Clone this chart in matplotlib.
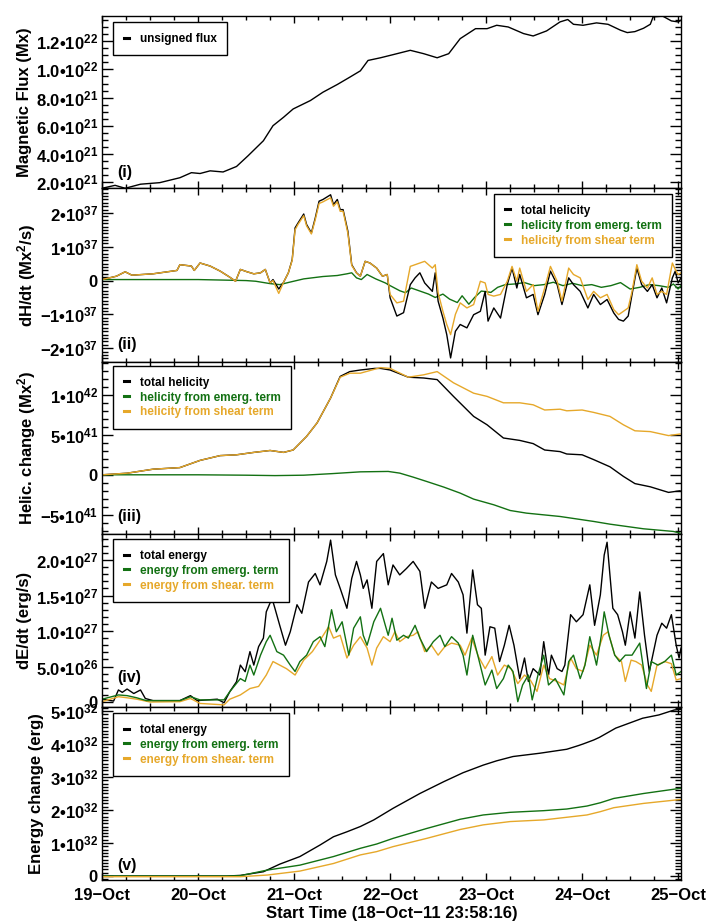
import matplotlib
matplotlib.use('Agg')
import matplotlib.pyplot as plt
from matplotlib.lines import Line2D
from matplotlib.ticker import FixedLocator, MultipleLocator

plt.rcParams['font.family'] = ['Liberation Sans', 'DejaVu Sans']
plt.rcParams['font.weight'] = 'bold'
plt.rcParams['mathtext.fontset'] = 'custom'
plt.rcParams['mathtext.rm'] = 'Liberation Sans:bold'
plt.rcParams['mathtext.bf'] = 'Liberation Sans:bold'
plt.rcParams['mathtext.it'] = 'Liberation Sans:bold'
plt.rcParams['mathtext.default'] = 'bf'

# ---------------- data (time in days since 19-Oct 00:00) ----------------
day_labels = ['19\u2212Oct', '20\u2212Oct', '21\u2212Oct', '22\u2212Oct', '23\u2212Oct', '24\u2212Oct', '25\u2212Oct']

# (i) unsigned flux, units 1e21 Mx
t_flux = [0.00, 0.135, 0.24, 0.40, 0.60, 0.81, 0.93, 1.02, 1.125, 1.26, 1.40, 1.52, 1.68, 1.78, 1.89, 1.99, 2.17, 2.30,
          2.45, 2.58, 2.69, 2.77, 2.90, 3.03, 3.21, 3.35, 3.49, 3.61, 3.73, 3.89, 4.01, 4.11, 4.23, 4.39, 4.49, 4.63,
          4.77, 4.85, 4.91, 5.01, 5.15, 5.27, 5.40, 5.47, 5.55, 5.64, 5.71, 5.74, 5.84, 5.93, 6.00, 6.03]
flux = [1.55, 1.76, 1.55, 1.84, 1.95, 2.3, 2.66, 2.6, 2.79, 2.71, 3.1, 3.86, 4.93, 6.0, 6.6, 7.19, 7.79, 8.38,
        8.93, 9.45, 9.9, 10.64, 10.83, 11.05, 11.36, 11.12, 10.83, 11.12, 12.19, 12.9, 12.9, 13.14, 13.02, 12.55, 12.38, 12.74,
        13.38, 13.55, 13.21, 13.14, 13.31, 13.21, 12.79, 12.62, 12.69, 12.93, 13.21, 13.74, 13.79, 13.45, 13.38, 13.5]

# (ii) dH/dt, units 1e37 Mx^2/s
t_dh = [0.00, 0.15, 0.24, 0.31, 0.53, 0.78, 0.81, 0.93, 0.96, 1.02,
        1.125, 1.23, 1.33, 1.39, 1.44, 1.51, 1.58, 1.65, 1.70, 1.75,
        1.78, 1.84, 1.89, 1.94, 1.98, 2.01, 2.04, 2.10, 2.13, 2.18,
        2.22, 2.26, 2.30, 2.38, 2.41, 2.45, 2.48, 2.51, 2.56, 2.60,
        2.65, 2.69, 2.74, 2.79, 2.86, 2.92, 2.97, 3.00, 3.07, 3.14,
        3.21, 3.26, 3.31, 3.36, 3.44, 3.47, 3.50, 3.55, 3.59, 3.63,
        3.68, 3.73, 3.80, 3.87, 3.94, 3.99, 4.02, 4.08, 4.15, 4.22,
        4.27, 4.32, 4.35, 4.42, 4.49, 4.54, 4.61, 4.67, 4.74, 4.79,
        4.86, 4.91, 4.98, 5.06, 5.12, 5.19, 5.26, 5.33, 5.38, 5.43,
        5.48, 5.52, 5.57, 5.62, 5.68, 5.73, 5.78, 5.83, 5.88, 5.94,
        5.97, 6.00, 6.03]
dh_total = [0.03, 0.13, 0.26, 0.16, 0.20, 0.30, 0.47, 0.43, 0.30, 0.52,
            0.43, 0.28, 0.10, -0.02, 0.33, 0.26, 0.20, 0.23, 0.33, -0.07,
            0.03, -0.25, -0.05, 0.23, 0.62, 1.56, 1.70, 1.97, 1.66, 1.41,
            1.85, 2.35, 2.40, 2.54, 2.25, 2.40, 2.10, 2.10, 1.46, 0.47,
            0.23, 0.13, 0.57, 0.52, 0.37, 0.13, 0.18, -0.51, -1.05, -0.95,
            -0.12, 0.08, 0.23, -0.07, -0.32, 0.23, -0.61, -1.11, -1.60, -2.29,
            -1.50, -1.30, -1.40, -1.01, -0.91, -0.32, -1.20, -0.81, -1.11, -0.12,
            0.37, -0.22, 0.18, -0.51, -0.41, -1.01, -0.41, 0.28, -0.12, -0.71,
            0.08, -0.12, -0.32, -0.81, -0.41, -0.71, -0.56, -0.96, -1.15, -1.20,
            -1.05, -0.41, 0.37, -0.12, -0.32, -0.12, -0.51, -0.22, -0.66, 0.08,
            0.28, -0.07, 0.08]
dh_shear = [0.03, 0.13, 0.26, 0.16, 0.20, 0.30, 0.47, 0.43, 0.30, 0.52,
            0.43, 0.28, 0.10, -0.02, 0.33, 0.26, 0.20, 0.23, 0.33, -0.07,
            0.0, -0.38, -0.05, 0.23, 0.60, 1.50, 1.66, 1.92, 1.62, 1.38,
            1.80, 2.28, 2.33, 2.45, 2.20, 2.33, 2.05, 2.05, 1.40, 0.45,
            0.22, 0.13, 0.57, 0.52, 0.37, 0.13, 0.18, -0.41, -0.66, -0.61,
            0.42, 0.47, 0.52, 0.57, 0.37, 0.47, -0.36, -0.91, -1.30, -1.60,
            -1.00, -0.66, -0.81, -0.71, -0.02, -0.07, -0.41, -0.46, -0.41, -0.02,
            0.42, -0.02, 0.37, -0.32, -0.12, -0.91, -0.22, 0.42, -0.02, -0.61,
            0.37, 0.18, 0.08, -0.56, -0.32, -0.51, -0.41, -0.86, -1.01, -0.91,
            -0.81, -0.32, 0.47, -0.02, -0.22, 0.08, -0.41, -0.32, -0.41, 0.52,
            0.33, 0.18, 0.23]
t_dh_em = [0.0, 0.5, 1.0, 1.5, 1.6, 1.75, 1.85, 1.95, 2.1, 2.3,
           2.45, 2.55, 2.6, 2.65, 2.7, 2.76, 2.85, 2.95, 3.0, 3.1,
           3.16, 3.22, 3.3, 3.4, 3.47, 3.55, 3.62, 3.7, 3.75, 3.82,
           3.88, 3.95, 4.05, 4.12, 4.2, 4.3, 4.4, 4.5, 4.6, 4.7,
           4.8, 4.9, 5.0, 5.1, 5.2, 5.3, 5.4, 5.5, 5.6, 5.7,
           5.8, 5.9, 5.95, 6.0, 6.03]
dh_emerg = [0.03, 0.03, 0.03, 0.0, -0.02, -0.09, -0.12, -0.05, 0.05, 0.12,
            0.15, 0.2, 0.23, 0.08, 0.03, 0.18, 0.05, -0.07, -0.15, -0.3,
            -0.36, -0.22, -0.3, -0.4, -0.5, -0.4, -0.55, -0.65, -0.45, -0.7,
            -0.5, -0.31, -0.35, -0.2, -0.12, -0.1, -0.06, -0.15, -0.12, -0.05,
            -0.15, -0.08, -0.15, -0.12, -0.2, -0.15, -0.06, -0.25, -0.2, -0.12,
            -0.15, -0.2, -0.1, -0.25, -0.15]

# (iii) helicity change, units 1e41 Mx^2
t_hc = [0.0, 0.26, 0.53, 0.81, 1.02, 1.23, 1.40, 1.58, 1.75, 1.89,
        1.99, 2.13, 2.24, 2.38, 2.48, 2.58, 2.69, 2.84, 2.90, 3.0,
        3.19, 3.35, 3.49, 3.66, 3.87, 4.01, 4.18, 4.35, 4.49, 4.61,
        4.77, 4.84, 5.0, 5.12, 5.29, 5.43, 5.55, 5.71, 5.90, 6.02]
hc_total = [0.0, 0.2, 0.7, 0.9, 1.8, 2.4, 2.5, 2.8, 3.04, 2.8,
            3.1, 4.8, 6.5, 9.6, 12.3, 12.9, 13.1, 13.3, 13.3, 13.1,
            12.2, 12.1, 11.9, 9.8, 7.3, 6.25, 4.6, 4.3, 3.9, 3.1,
            2.9, 2.6, 2.5, 1.9, 1.0, -0.2, -1.1, -1.5, -2.2, -2.0]
hc_shear = [0.0, 0.2, 0.7, 0.9, 1.8, 2.4, 2.5, 2.8, 3.04, 2.8,
            3.1, 4.8, 6.5, 9.6, 12.2, 12.7, 12.7, 13.2, 13.4, 13.3,
            12.2, 12.5, 12.9, 11.5, 10.2, 9.8, 9.0, 9.0, 8.75, 8.1,
            8.2, 8.0, 8.1, 7.8, 7.3, 6.25, 5.5, 5.4, 4.9, 5.1]
t_hc_em = [0.0, 0.5, 1.0, 1.5, 1.8, 2.1, 2.4, 2.69, 2.98, 3.10,
           3.24, 3.38, 3.56, 3.73, 3.87, 4.08, 4.25, 4.42, 4.77, 5.12,
           5.29, 5.64, 5.95, 6.02]
hc_emerg = [0.0, 0.0, 0.0, -0.05, -0.1, -0.05, 0.15, 0.37, 0.42, 0.21,
            -0.29, -0.83, -1.54, -2.29, -3.04, -3.75, -4.46, -4.79, -5.21, -5.83,
            -6.17, -6.75, -7.08, -7.29]

# (iv) dE/dt, units 1e26 erg/s
t_de_tot = [0.0, 0.12, 0.17, 0.21, 0.26, 0.33, 0.40, 0.45, 0.53, 0.81,
            0.92, 0.99, 1.20, 1.27, 1.33, 1.40, 1.44, 1.49, 1.54, 1.58,
            1.63, 1.68, 1.71, 1.77, 1.80, 1.85, 1.91, 1.96, 2.03, 2.08,
            2.15, 2.22, 2.27, 2.34, 2.38, 2.43, 2.48, 2.55, 2.60, 2.65,
            2.69, 2.72, 2.76, 2.81, 2.86, 2.93, 2.98, 3.03, 3.10, 3.17,
            3.24, 3.31, 3.36, 3.43, 3.50, 3.59, 3.64, 3.71, 3.76, 3.80,
            3.86, 3.91, 3.95, 3.99, 4.04, 4.09, 4.14, 4.19, 4.24, 4.29,
            4.35, 4.40, 4.44, 4.49, 4.56, 4.60, 4.65, 4.68, 4.74, 4.79,
            4.82, 4.88, 4.94, 5.01, 5.08, 5.13, 5.19, 5.23, 5.26, 5.32,
            5.37, 5.42, 5.45, 5.50, 5.55, 5.60, 5.65, 5.70, 5.78, 5.83,
            5.88, 5.93, 5.98, 6.01, 6.03]
de_total = [0.4, 0.14, 1.7, 1.36, 1.83, 1.2, 1.7, 0.5, 0.2, 0.2,
            0.9, 0.2, 0.4, -0.1, 1.46, 2.86, 5.2, 4.27, 7.1, 5.2,
            7.8, 9.0, 12.7, 14.6, 13.2, 10.8, 8.0, 9.9, 13.7, 12.5,
            16.9, 18.1, 16.5, 19.8, 22.8, 17.9, 16.0, 13.2, 17.4, 19.8,
            17.9, 16.0, 17.2, 13.2, 19.8, 20.9, 16.5, 19.3, 17.9, 18.8,
            19.8, 18.4, 13.2, 16.9, 16.0, 16.5, 18.1, 16.9, 15.1, 9.7,
            18.6, 13.7, 13.2, 6.6, 10.6, 10.4, 5.7, 8.0, 10.8, 8.0,
            3.3, 6.2, 2.9, 4.7, 3.8, 8.5, 3.8, 6.6, 4.7, 4.3,
            5.2, 12.3, 11.3, 12.3, 16.5, 10.8, 15.1, 20.7, 22.5, 13.2,
            12.3, 9.9, 8.0, 12.7, 9.0, 15.5, 9.4, 4.3, 9.4, 11.1,
            10.4, 12.3, 8.0, 6.2, 7.6]
t_de_em = [0.0, 0.17, 0.26, 0.36, 0.46, 0.81, 0.92, 1.02, 1.27, 1.33,
           1.44, 1.49, 1.54, 1.58, 1.65, 1.71, 1.75, 1.82, 1.89, 1.96,
           2.01, 2.06, 2.13, 2.20, 2.27, 2.32, 2.39, 2.44, 2.50, 2.57,
           2.62, 2.69, 2.72, 2.76, 2.83, 2.90, 2.95, 2.98, 3.02, 3.07,
           3.14, 3.19, 3.26, 3.31, 3.38, 3.45, 3.52, 3.57, 3.64, 3.71,
           3.76, 3.80, 3.86, 3.92, 3.99, 4.06, 4.11, 4.18, 4.23, 4.28,
           4.33, 4.38, 4.44, 4.48, 4.54, 4.60, 4.65, 4.72, 4.81, 4.86,
           4.91, 4.98, 5.03, 5.08, 5.15, 5.20, 5.23, 5.28, 5.34, 5.39,
           5.45, 5.52, 5.60, 5.67, 5.72, 5.79, 5.86, 5.93, 5.98, 6.03]
de_emerg = [0.4, 1.0, 0.9, 0.6, 0.2, 0.2, 0.75, 0.3, 0.3, 1.46,
            3.3, 2.9, 5.2, 3.8, 6.6, 8.5, 9.4, 7.1, 6.6, 5.2,
            4.3, 5.7, 6.6, 8.5, 9.2, 7.8, 13.0, 9.9, 11.3, 6.6,
            10.4, 12.0, 9.4, 8.0, 11.3, 13.2, 10.8, 9.4, 11.8, 8.7,
            9.4, 9.0, 10.8, 9.0, 7.1, 8.5, 9.4, 7.8, 9.2, 8.3,
            6.6, 3.8, 9.4, 6.2, 2.4, 4.5, 1.9, 3.3, 5.2, 4.3,
            0.05, 2.4, 3.8, 0.3, 3.8, 6.6, 2.4, 3.3, 1.0, 5.7,
            6.6, 3.3, 5.2, 9.2, 5.2, 9.4, 12.7, 9.4, 6.6, 5.7,
            6.6, 6.6, 8.3, 1.9, 5.7, 5.2, 5.7, 6.6, 3.8, 4.3]
t_de_sh = [0.0, 0.17, 0.26, 0.36, 0.50, 0.81, 0.92, 1.02, 1.27, 1.33,
           1.44, 1.54, 1.63, 1.71, 1.78, 1.85, 1.92, 2.01, 2.10, 2.19,
           2.27, 2.36, 2.41, 2.48, 2.55, 2.62, 2.69, 2.76, 2.81, 2.86,
           2.93, 3.00, 3.05, 3.10, 3.17, 3.24, 3.29, 3.36, 3.43, 3.50,
           3.57, 3.64, 3.73, 3.78, 3.85, 3.92, 3.99, 4.06, 4.12, 4.19,
           4.26, 4.33, 4.40, 4.46, 4.53, 4.60, 4.66, 4.74, 4.81, 4.88,
           4.94, 5.01, 5.08, 5.15, 5.22, 5.27, 5.34, 5.41, 5.45, 5.51,
           5.56, 5.62, 5.68, 5.72, 5.78, 5.86, 5.93, 5.98, 6.03]
de_shear = [0.05, 0.75, 0.6, 0.4, 0.0, 0.05, 0.5, -0.2, -0.4, 0.4,
            1.0, 1.9, 2.2, 3.8, 5.7, 5.2, 4.7, 3.8, 5.9, 7.1,
            8.7, 10.6, 9.0, 9.4, 6.2, 8.0, 9.2, 7.6, 5.2, 7.6,
            9.2, 8.5, 9.9, 8.5, 9.2, 9.4, 9.9, 7.1, 8.0, 6.6,
            7.8, 8.3, 8.0, 6.6, 9.0, 6.4, 4.7, 6.4, 3.8, 5.2,
            4.7, 2.6, 3.8, 3.1, 1.5, 5.2, 3.3, 2.9, 2.4, 6.2,
            4.7, 4.3, 8.0, 6.6, 9.4, 9.9, 6.6, 5.7, 2.9, 5.9,
            5.7, 5.2, 2.4, 1.5, 5.2, 5.7, 5.4, 3.1, 3.3]

# (v) energy change, units 1e32 erg
t_ec = [0.0, 0.5, 1.0, 1.3, 1.44, 1.68, 1.85, 2.06, 2.27, 2.41,
        2.55, 2.69, 2.83, 3.03, 3.31, 3.56, 3.76, 3.97, 4.11, 4.28,
        4.56, 4.84, 4.96, 5.01, 5.12, 5.18, 5.35, 5.63, 5.80, 5.96, 6.03]
ec_total = [0.0, 0.0, 0.0, 0.0, 0.02, 0.13, 0.36, 0.59, 0.94, 1.19,
            1.34, 1.5, 1.7, 2.05, 2.5, 2.86, 3.13, 3.36, 3.49, 3.62,
            3.72, 3.84, 3.95, 4.0, 4.12, 4.2, 4.48, 4.78, 4.88, 5.03, 5.05]
t_ec2 = [0.0, 0.5, 1.0, 1.3, 1.44, 1.72, 2.06, 2.41, 2.69, 2.86,
         3.03, 3.38, 3.73, 3.97, 4.25, 4.60, 4.84, 5.05, 5.19, 5.33, 5.64, 6.03]
ec_emerg = [0.0, 0.0, 0.0, 0.0, 0.01, 0.18, 0.33, 0.59, 0.84, 0.97,
            1.14, 1.44, 1.72, 1.85, 1.93, 1.98, 2.03, 2.12, 2.22, 2.35, 2.5, 2.66]
ec_shear = [-0.02, -0.02, -0.02, -0.02, -0.02, 0.03, 0.15, 0.38, 0.64, 0.74,
            0.89, 1.14, 1.41, 1.55, 1.65, 1.70, 1.78, 1.85, 1.95, 2.07, 2.2, 2.32]

# ---------------- styling ----------------
BLACK = 'black'
GREEN = '#137113'
ORANGE = '#E6A82A'
FS = 12
LW = 1.0

W, H = 721, 921
fig = plt.figure(figsize=(W / 100, H / 100), dpi=100)
left_px, right_px = 102, 681
bounds = [16, 188, 362, 534, 707, 880]
axes = []
for i in range(5):
    top, bot = bounds[i], bounds[i + 1]
    ax = fig.add_axes([left_px / W, 1 - bot / H, (right_px - left_px) / W, (bot - top) / H])
    axes.append(ax)

def style(ax, yt, ylab, ylim, yminor, bottom=False):
    ax.set_xlim(-0.0012, 6.03)
    ax.xaxis.set_major_locator(FixedLocator(list(range(7))))
    ax.xaxis.set_minor_locator(MultipleLocator(0.25))
    ax.set_ylim(*ylim)
    ax.set_yticks(yt)
    ax.set_yticklabels(ylab, fontsize=FS, fontweight='bold')
    ax.yaxis.set_minor_locator(MultipleLocator(yminor))
    ax.tick_params(axis='both', which='both', direction='in', top=True, right=True, width=1.0, color='black')
    ax.tick_params(axis='x', which='major', length=5)
    ax.tick_params(axis='x', which='minor', length=3)
    ax.tick_params(axis='y', which='major', length=8, pad=3)
    ax.tick_params(axis='y', which='minor', length=4.5)
    if bottom:
        ax.set_xticklabels(day_labels, fontsize=FS, fontweight='bold')
        ax.tick_params(axis='x', which='major', pad=6)
    else:
        ax.set_xticklabels([])
    for sp in ax.spines.values():
        sp.set_linewidth(1.0)

def add_legend(ax, labels, colors, anchor, loc):
    handles = [Line2D([], [], color=c, lw=2.2) for c in colors]
    leg = ax.legend(handles, labels, loc=loc, bbox_to_anchor=anchor, frameon=True, fancybox=False,
                    edgecolor='black', framealpha=1, prop={'weight': 'bold', 'size': 8.5},
                    handlelength=0.45, handletextpad=0.9, borderpad=0.9, labelspacing=0.25,
                    borderaxespad=0, labelcolor=colors)
    leg.get_frame().set_linewidth(1.0)
    return leg

def sup(m, e):
    return m + '\u2022' + '10$^{' + e + '}$'

# Panel (i)
ax = axes[0]
ax.plot(t_flux, flux, color=BLACK, lw=LW)
style(ax, [2, 4, 6, 8, 10, 12],
      [sup('2.0', '21'), sup('4.0', '21'), sup('6.0', '21'), sup('8.0', '21'), sup('1.0', '22'), sup('1.2', '22')],
      (1.57, 13.8), 0.5)
add_legend(ax, ['unsigned flux'], [BLACK], (0.019, 0.965), 'upper left')

# Panel (ii)
ax = axes[1]
ax.plot(t_dh_em, dh_emerg, color=GREEN, lw=LW)
ax.plot(t_dh, dh_total, color=BLACK, lw=LW)
ax.plot(t_dh, dh_shear, color=ORANGE, lw=LW)
style(ax, [-2, -1, 0, 1, 2],
      ['\u2212' + sup('2', '37'), '\u2212' + sup('1', '37'), '0', sup('1', '37'), sup('2', '37')],
      (-2.41, 2.74), 0.1)
add_legend(ax, ['total helicity', 'helicity from emerg. term', 'helicity from shear term'],
           [BLACK, GREEN, ORANGE], (0.9845, 0.9655), 'upper right')

# Panel (iii)
ax = axes[2]
ax.plot(t_hc, hc_total, color=BLACK, lw=LW)
ax.plot(t_hc_em, hc_emerg, color=GREEN, lw=LW)
ax.plot(t_hc, hc_shear, color=ORANGE, lw=LW)
style(ax, [-5, 0, 5, 10],
      ['\u2212' + sup('5', '41'), '0', sup('5', '41'), sup('1', '42')],
      (-7.4, 14.1), 1)
add_legend(ax, ['total helicity', 'helicity from emerg. term', 'helicity from shear term'],
           [BLACK, GREEN, ORANGE], (0.019, 0.977), 'upper left')

# Panel (iv)
ax = axes[3]
ax.plot(t_de_tot, de_total, color=BLACK, lw=LW)
ax.plot(t_de_sh, de_shear, color=ORANGE, lw=LW)
ax.plot(t_de_em, de_emerg, color=GREEN, lw=LW)
style(ax, [0, 5, 10, 15, 20],
      ['0', sup('5.0', '26'), sup('1.0', '27'), sup('1.5', '27'), sup('2.0', '27')],
      (-0.7, 23.66), 1)
add_legend(ax, ['total energy', 'energy from emerg. term', 'energy from shear. term'],
           [BLACK, GREEN, ORANGE], (0.019, 0.971), 'upper left')

# Panel (v)
ax = axes[4]
ax.plot(t_ec, ec_total, color=BLACK, lw=LW)
ax.plot(t_ec2, ec_emerg, color=GREEN, lw=LW)
ax.plot(t_ec2, ec_shear, color=ORANGE, lw=LW)
style(ax, [0, 1, 2, 3, 4, 5],
      ['0', sup('1', '32'), sup('2', '32'), sup('3', '32'), sup('4', '32'), sup('5', '32')],
      (-0.12, 5.12), 0.1, bottom=True)
add_legend(ax, ['total energy', 'energy from emerg. term', 'energy from shear. term'],
           [BLACK, GREEN, ORANGE], (0.019, 0.965), 'upper left')

# panel tags
tags = ['(i)', '(ii)', '(iii)', '(iv)', '(v)']
tag_y = [0.093, 0.098, 0.099, 0.173, 0.081]
for ax, tg, ty in zip(axes, tags, tag_y):
    ax.text(0.026, ty, tg, transform=ax.transAxes, fontsize=11.5, fontweight='bold', ha='left', va='center')

# y labels
ylabels = ['Magnetic Flux (Mx)', 'dH/dt (Mx$^2$/s)', 'Helic. change (Mx$^2$)', 'dE/dt (erg/s)', 'Energy change (erg)']
ylab_x = [25, 27, 27, 25, 37]
for i, (lab, xp) in enumerate(zip(ylabels, ylab_x)):
    yc = (bounds[i] + bounds[i + 1]) / 2
    fig.text(xp / W, 1 - yc / H, lab, rotation=90, ha='center', va='center', fontsize=FS, fontweight='bold')

fig.text((left_px + right_px) / 2 / W, 1 - 913 / H, 'Start Time (18\u2212Oct\u221211 23:58:16)',
         ha='center', va='center', fontsize=FS, fontweight='bold')

fig.savefig('out.png', dpi=100)
